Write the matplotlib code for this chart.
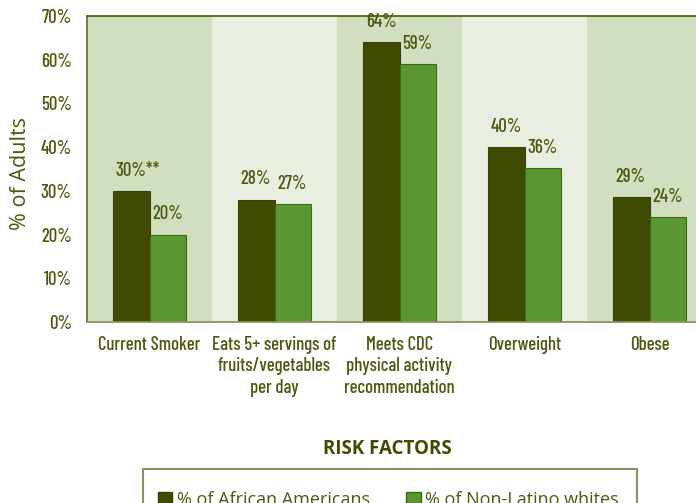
import matplotlib
matplotlib.use("Agg")
import matplotlib.pyplot as plt
from matplotlib.patches import Patch, Rectangle

categories = [
    "Current Smoker",
    "Eats 5+ servings of\nfruits/vegetables\nper day",
    "Meets CDC\nphysical activity\nrecommendation",
    "Overweight",
    "Obese",
]
african_american = [30, 28, 64, 40, 28.5]
non_latino_white = [20, 27, 59, 35.2, 24]
aa_labels = ["30%**", "28%", "64%", "40%", "29%"]
nlw_labels = ["20%", "27%", "59%", "36%", "24%"]
yticks = [0, 10, 20, 30, 40, 50, 60, 70]

DARK = "#3f4b02"
GREEN = "#5b9833"
BAND_DARK = "#d1dfc0"
BAND_LIGHT = "#e8efe1"
TEXT = "#4b5a10"
NARROW = ["Barlow Condensed", "DejaVu Sans"]
REGULAR = ["Open Sans", "DejaVu Sans"]

W, H = 696, 503
fig = plt.figure(figsize=(W / 100, H / 100), dpi=100)
ax = fig.add_axes([87 / W, (H - 322) / H, 625 / W, 306 / H])

# alternating background bands
for i in range(len(categories)):
    ax.axvspan(i - 0.5, i + 0.5, color=BAND_DARK if i % 2 == 0 else BAND_LIGHT, lw=0, zorder=0)

bw = 0.29
xs = list(range(len(categories)))
b1 = ax.bar([x - bw / 2 for x in xs], african_american, bw, color=DARK,
            edgecolor="#35400a", lw=0.8, zorder=2)
b2 = ax.bar([x + bw / 2 for x in xs], non_latino_white, bw, color=GREEN,
            edgecolor="#3f6a14", lw=0.8, zorder=2)

for bars, labels in ((b1, aa_labels), (b2, nlw_labels)):
    for rect, lab in zip(bars, labels):
        ax.annotate(lab, (rect.get_x() + 0.02, rect.get_height()),
                    xytext=(0, 8), textcoords="offset points",
                    ha="left", va="bottom", color=TEXT, fontsize=13.5,
                    family=NARROW, fontweight=500)

ax.set_xlim(-0.5, len(categories) - 0.5)
ax.set_ylim(0, 70)
ax.set_yticks(yticks, [f"{v}%" for v in yticks])
ax.set_xticks(xs, categories)
ax.tick_params(axis="both", length=0, colors=TEXT, labelsize=13.5)
ax.tick_params(axis="y", pad=11)
ax.tick_params(axis="x", pad=10)
for lab in ax.get_xticklabels() + ax.get_yticklabels():
    lab.set_family(NARROW)
    lab.set_fontweight(500)
for lab in ax.get_xticklabels():
    lab.set_linespacing(1.25)

ax.spines["right"].set_visible(False)
ax.spines["left"].set_color("#6b7530")
ax.spines["top"].set_color("#55620f")
ax.spines["bottom"].set_color("#8a9460")
for s in ("left", "top", "bottom"):
    ax.spines[s].set_linewidth(1.3)

ax.set_ylabel("% of Adults", color=TEXT, fontsize=15.5, family=REGULAR,
              ha="center", va="center")
ax.yaxis.set_label_coords(-0.107, 0.485)

fig.text(387 / W, 1 - 449 / H, "RISK FACTORS", ha="center", va="center",
         color="#3f4b02", fontsize=13.5, fontweight="bold", family=REGULAR)

# legend box, cut off by the bottom edge like the original
fig.patches.append(Rectangle((143 / W, -0.05), 494 / W, 0.05 + (H - 469) / H,
                             transform=fig.transFigure, fill=False,
                             edgecolor="#8a9060", lw=1.5))
handles = [Patch(facecolor=DARK, edgecolor="#35400a", label="% of African Americans"),
           Patch(facecolor=GREEN, edgecolor="#3f6a14", label="% of Non-Latino whites")]
leg = fig.legend(handles=handles, loc="upper left", bbox_to_anchor=(158 / W, 1 - 491 / H),
                 ncol=2, frameon=False, borderpad=0, borderaxespad=0,
                 handlelength=0.8, handleheight=0.8, handletextpad=0.25,
                 columnspacing=2.0, prop={"family": REGULAR, "size": 13})
for t in leg.get_texts():
    t.set_color(TEXT)

fig.savefig("out.png", dpi=100)
